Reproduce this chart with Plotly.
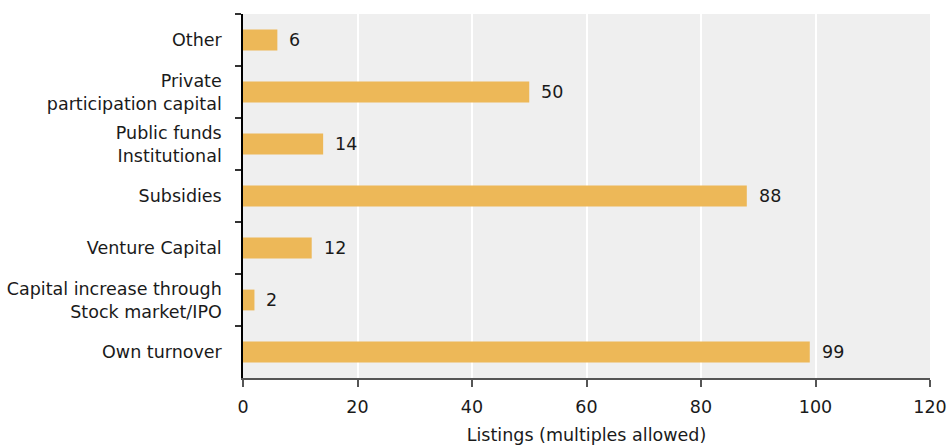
import plotly.graph_objects as go

categories = ["Other", "Private<br>participation capital", "Public funds<br>Institutional",
              "Subsidies", "Venture Capital", "Capital increase through<br>Stock market/IPO",
              "Own turnover"]
values = [6, 50, 14, 88, 12, 2, 99]
x_ticks = [0, 20, 40, 60, 80, 100, 120]

FONT = "DejaVu Sans"

fig = go.Figure()
fig.add_trace(go.Bar(
    x=values, y=categories, orientation="h",
    marker=dict(color="#EDB858", line=dict(width=0)),
    width=0.4, hoverinfo="skip",
))
for v, c in zip(values, categories):
    fig.add_annotation(x=v, y=c, text=str(v), showarrow=False, xanchor="left",
                       xshift=10, font=dict(family=FONT, size=17.5, color="#1a1a1a"))

fig.update_layout(
    width=950, height=445,
    margin=dict(l=243, r=20, t=14, b=67, autoexpand=False),
    paper_bgcolor="white", plot_bgcolor="#EFEFEF",
    showlegend=False,
    font=dict(family=FONT, size=17.5, color="#1a1a1a"),
)
fig.update_xaxes(
    range=[0, 120], tickvals=x_ticks, ticktext=[str(t) for t in x_ticks],
    showgrid=True, gridcolor="white", gridwidth=2, zeroline=False,
    showline=True, linecolor="#555555", linewidth=1.5,
    ticks="outside", ticklen=7, tickcolor="#555555", tickwidth=1.5,
    ticklabelstandoff=5, automargin=False,
    tickfont=dict(size=17.5),
    title=dict(text="Listings (multiples allowed)", font=dict(size=17.5), standoff=16),
)
fig.update_yaxes(
    autorange="reversed", type="category",
    showline=True, linecolor="black", linewidth=1.5,
    ticks="outside", tickson="boundaries", ticklen=6, tickcolor="#333333", tickwidth=1.5,
    showgrid=False, ticklabelstandoff=16, automargin=False,
    tickfont=dict(size=17.5),
)
fig.write_html("out.html", config={"displayModeBar": False},
               post_script="document.body.style.margin='0';document.body.style.overflow='hidden';")
